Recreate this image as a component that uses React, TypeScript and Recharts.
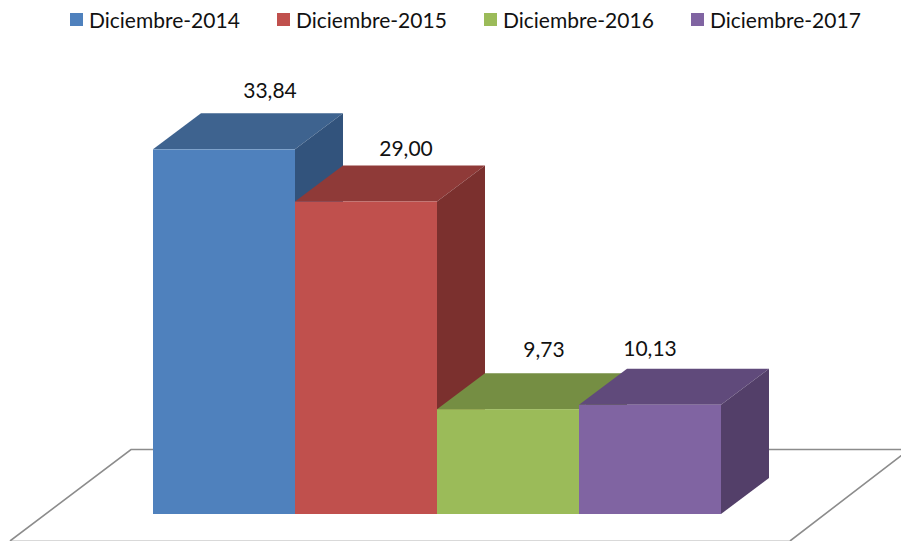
import { Bar, BarChart, Customized, LabelList, Legend, XAxis, YAxis } from "recharts";

const categories = ["Diciembre"];
const seriesNames = ["Diciembre-2014", "Diciembre-2015", "Diciembre-2016", "Diciembre-2017"];
const seriesValues = [33.84, 29.0, 9.73, 10.13];

const data = [
  Object.fromEntries([
    ["name", categories[0]],
    ...seriesNames.map((s, i) => [s, seriesValues[i]]),
  ]),
];

/* front, top, side shades of each column */
const FRONT = ["#4F81BD", "#C0504D", "#9BBB59", "#8064A2"];
const TOP = ["#3E638F", "#8F3A38", "#758E43", "#604A7B"];
const SIDE = ["#32537C", "#7B302E", "#647A39", "#533F69"];

const DEPTH_X = 48;
const DEPTH_Y = 36;
const FONT = "Lato, Carlito, sans-serif";

/* hand placed data labels, relative to the top front corner of the bar */
const LABEL_DX = [117, 111, 107, 71];
const LABEL_DY = [-60, -54, -61, -57];

function Column(props: any, i: number) {
  const { x, y, width, height } = props;
  const r = x + width;
  const b = y + height;
  return (
    <g>
      <polygon
        points={`${x},${y} ${x + DEPTH_X},${y - DEPTH_Y} ${r + DEPTH_X},${y - DEPTH_Y} ${r},${y}`}
        fill={TOP[i]}
      />
      <polygon
        points={`${r},${y} ${r + DEPTH_X},${y - DEPTH_Y} ${r + DEPTH_X},${b - DEPTH_Y} ${r},${b}`}
        fill={SIDE[i]}
      />
      <rect x={x} y={y} width={width} height={height} fill={FRONT[i]} />
    </g>
  );
}

function Floor() {
  return (
    <g fill="none">
      <line x1={10} y1={540.5} x2={790} y2={540.5} stroke="#D9D9D9" strokeWidth={1} />
      <polyline points="10,541 131,449.5 909,449.5 790,541" stroke="#8C8C8C" strokeWidth={1.6} />
    </g>
  );
}

function LegendRow({ payload }: any) {
  return (
    <div style={{ display: "flex", paddingLeft: 70, height: 40, fontFamily: FONT, fontSize: 21, color: "#111" }}>
      {(payload ?? []).map((p: any, i: number) => (
        <div key={p.value} style={{ width: 207, display: "flex", alignItems: "flex-start" }}>
          <span style={{ width: 13, height: 13, marginTop: 13, marginRight: 6, background: FRONT[i], flexShrink: 0 }} />
          <span style={{ lineHeight: "39px", whiteSpace: "nowrap" }}>{p.value}</span>
        </div>
      ))}
    </div>
  );
}

function valueLabel(i: number) {
  return (props: any) => (
    <text
      x={props.x + LABEL_DX[i]}
      y={props.y + LABEL_DY[i]}
      textAnchor="middle"
      dominantBaseline="central"
      fontFamily={FONT}
      fontSize={21}
      fill="#111"
    >
      {Number(props.value).toFixed(2).replace(".", ",")}
    </text>
  );
}

export default function App() {
  return (
    <div style={{ position: "absolute", left: 0, top: 0, width: 901, height: 541, background: "#fff", overflow: "hidden" }}>
      <BarChart
        width={901}
        height={541}
        data={data}
        margin={{ left: 153, right: 180, top: 43, bottom: 27 }}
        barCategoryGap={0}
        barGap={0}
      >
        <XAxis dataKey="name" hide />
        <YAxis hide domain={[0, 40]} />
        <Customized component={Floor} />
        <Legend verticalAlign="top" content={<LegendRow />} wrapperStyle={{ top: 0, left: 0, width: 901 }} />
        {seriesNames.map((s, i) => (
          <Bar key={s} dataKey={s} isAnimationActive={false} fill={FRONT[i]} shape={(p: any) => Column(p, i)}>
            <LabelList dataKey={s} content={valueLabel(i)} />
          </Bar>
        ))}
      </BarChart>
    </div>
  );
}
